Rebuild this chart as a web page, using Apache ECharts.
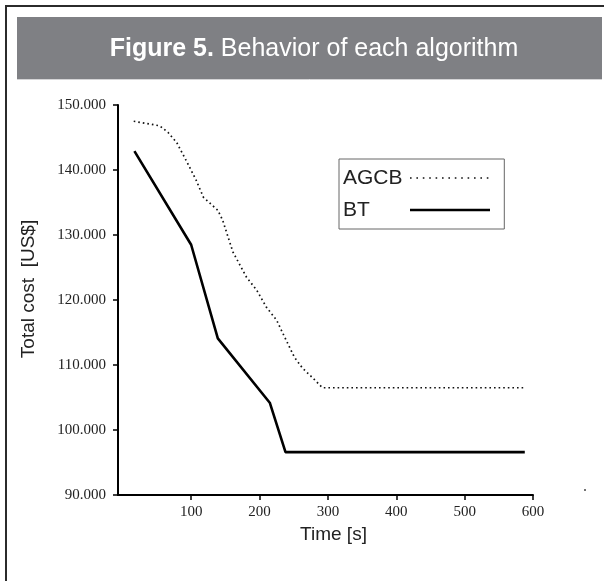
<!DOCTYPE html>
<html>
<head>
<meta charset="utf-8">
<script src="https://cdn.jsdelivr.net/npm/echarts@6/dist/echarts.min.js"></script>
<style>
  html, body { margin: 0; padding: 0; background: #fff; }
  #chart { width: 604px; height: 581px; }
</style>
</head>
<body>
<div id="chart"></div>
<script>
// ---- data (cost in thousands of US$) ----
const agcbTime = [16, 54, 66, 79, 94, 107, 118, 139, 146, 161, 181, 196, 210, 225, 234, 251, 263, 278, 292, 588];
const agcbCost = [147.5, 146.8, 145.8, 144.2, 141.2, 138.5, 135.8, 133.8, 132.3, 127.4, 123.5, 121.5, 118.9, 116.9, 114.9, 111.2, 109.5, 108.0, 106.5, 106.5];
const btTime = [17, 100, 139, 215, 238, 588];
const btCost = [142.9, 128.5, 114.1, 104.2, 96.6, 96.6];
const xTickValues = [100, 200, 300, 400, 500, 600];
const yTickStep = 10;
const seriesNames = ['AGCB', 'BT'];
const titleBold = 'Figure 5.';
const titleRest = ' Behavior of each algorithm';
const xName = 'Time [s]';
const yName = 'Total cost  [US$]';

const zip = (a, b) => a.map((v, i) => [v, b[i]]);
const dotted = [1.6, 3.0];
const legendDotted = [1.6, 4.8];

const chart = echarts.init(document.getElementById('chart'), null, { renderer: 'canvas' });
chart.setOption({
  backgroundColor: '#ffffff',
  animation: false,
  grid: { left: 118, right: 71, top: 105, bottom: 86 },
  graphic: [
    { type: 'polyline', silent: true, shape: { points: [[6, 581], [6, 6], [604, 6]] },
      style: { stroke: '#2b2b2b', lineWidth: 2, fill: null } },
    { type: 'rect', silent: true, shape: { x: 17, y: 17, width: 585, height: 62 },
      style: { fill: '#7f8084' } },
    { type: 'line', silent: true, shape: { x1: 17, y1: 79.5, x2: 602, y2: 79.5 },
      style: { stroke: '#d4d4d6', lineWidth: 1 } },
    { type: 'text', silent: true, x: 314, y: 49,
      style: {
        text: '{b|' + titleBold + '}{n|' + titleRest + '}',
        align: 'center', verticalAlign: 'middle',
        rich: {
          b: { fontFamily: 'Liberation Sans, Arial', fontWeight: 'bold', fontSize: 25, fill: '#ffffff' },
          n: { fontFamily: 'Liberation Sans, Arial', fontSize: 25, fill: '#ffffff' }
        }
      } },
    { type: 'circle', silent: true, shape: { cx: 585, cy: 490, r: 1 }, style: { fill: '#444' } }
  ],
  legend: {
    orient: 'vertical',
    left: 339, top: 159,
    align: 'right',
    padding: [7, 13, 7, 4],
    itemGap: 8,
    itemWidth: 80,
    itemHeight: 14,
    borderColor: '#666',
    borderWidth: 1,
    backgroundColor: '#fff',
    data: [
      { name: seriesNames[0], itemStyle: { opacity: 0 }, lineStyle: { color: '#111', width: 1.6, type: legendDotted, cap: 'butt' } },
      { name: seriesNames[1], itemStyle: { opacity: 0 }, lineStyle: { color: '#000', width: 2.6, type: 'solid' } }
    ],
    formatter: name => '{t|' + name + '}',
    textStyle: {
      fontFamily: 'Liberation Sans, Arial', fontSize: 21, color: '#222', lineHeight: 24,
      rich: { t: { width: 62, align: 'left', fontFamily: 'Liberation Sans, Arial', fontSize: 21, color: '#222', lineHeight: 24 } }
    }
  },
  xAxis: {
    type: 'value', min: -7, max: 600,
    name: xName, nameLocation: 'middle', nameGap: 30,
    nameTextStyle: { fontFamily: 'Liberation Sans, Arial', fontSize: 19, color: '#222', padding: [0, 0, 0, 16] },
    axisLine: { show: true, onZero: false, lineStyle: { color: '#000', width: 2 } },
    axisTick: { show: true, length: 5, customValues: xTickValues, lineStyle: { color: '#000', width: 1.5 } },
    axisLabel: { customValues: xTickValues, fontFamily: 'Liberation Serif, Times New Roman', fontSize: 15, color: '#222', margin: 10 },
    splitLine: { show: false }
  },
  yAxis: {
    type: 'value', min: 90, max: 150, interval: yTickStep,
    name: yName, nameLocation: 'middle', nameGap: 80, nameRotate: 90,
    nameTextStyle: { fontFamily: 'Liberation Sans, Arial', fontSize: 19, color: '#222', padding: [0, 0, 0, 22] },
    axisLine: { show: true, onZero: false, lineStyle: { color: '#000', width: 2 } },
    axisTick: { show: true, length: 5, lineStyle: { color: '#000', width: 1.5 } },
    axisLabel: { formatter: v => v + '.000', fontFamily: 'Liberation Serif, Times New Roman', fontSize: 15, color: '#222', margin: 12 },
    splitLine: { show: false }
  },
  series: [
    { name: seriesNames[0], type: 'line', data: zip(agcbTime, agcbCost), symbol: 'none',
      lineStyle: { color: '#111', width: 1.7, type: dotted, cap: 'butt' }, itemStyle: { color: '#111' } },
    { name: seriesNames[1], type: 'line', data: zip(btTime, btCost), symbol: 'none',
      lineStyle: { color: '#000', width: 2.6, type: 'solid' }, itemStyle: { color: '#000' } }
  ]
});
</script>
</body>
</html>
